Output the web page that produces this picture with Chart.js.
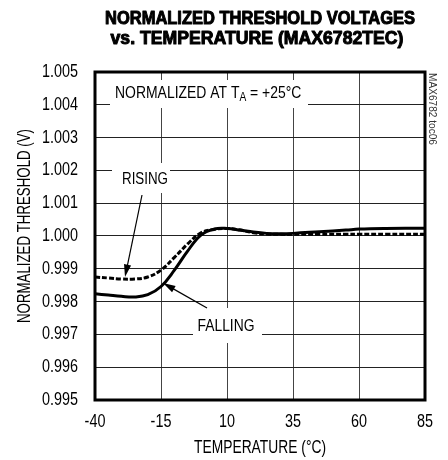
<!DOCTYPE html>
<html>
<head>
<meta charset="utf-8">
<script src="https://cdn.jsdelivr.net/npm/chart.js@4.4.1/dist/chart.umd.min.js"></script>
<style>
  html, body { margin: 0; padding: 0; background: #fff; }
  #wrap { width: 448px; height: 460px; }
</style>
</head>
<body>
<div id="wrap"><canvas id="chart" width="448" height="460"></canvas></div>
<script>
// temperatures (°C) and normalized thresholds
const temps = [-40, -35, -30, -25, -20, -15, -10, -5, 0, 5, 10, 15, 20, 25, 30, 35, 45, 55, 60, 70, 85];
const rising = [0.99875, 0.99872, 0.99869, 0.99869, 0.99875, 0.99896, 0.99934, 0.99975, 1.00009, 1.00020,
  1.00023, 1.00018, 1.00010, 1.00006, 1.00005, 1.00005, 1.00005, 1.00005, 1.00005, 1.00005, 1.00005];
const falling = [0.99824, 0.99820, 0.99816, 0.99814, 0.99821, 0.99846, 0.99895, 0.99953, 1.00002, 1.00021,
  1.00023, 1.00018, 1.00012, 1.00008, 1.00007, 1.00008, 1.00013, 1.00018, 1.00021, 1.00023, 1.00024];
const xTicks = [-40, -15, 10, 35, 60, 85];
const yTicks = [0.995, 0.996, 0.997, 0.998, 0.999, 1.000, 1.001, 1.002, 1.003, 1.004, 1.005];

const FONT = '"Liberation Sans", Arial, sans-serif';

// narrow text: regular font squeezed horizontally
function txt(ctx, s, x, y, o) {
  o = o || {};
  ctx.save();
  ctx.font = (o.bold ? 'bold ' : '') + (o.size || 18) + 'px ' + FONT;
  ctx.fillStyle = o.color || '#000';
  ctx.textBaseline = 'middle';
  ctx.textAlign = 'left';
  const m = ctx.measureText(s).width;
  const sx = o.w ? o.w / m : (o.sx || 0.8);
  const w = m * sx;
  ctx.translate(x, y);
  if (o.rot) ctx.rotate(o.rot);
  let dx = 0;
  if (o.align === 'center') dx = -w / 2;
  if (o.align === 'right') dx = -w;
  ctx.translate(dx, 0);
  ctx.scale(sx, 1);
  if (o.heavy) {
    ctx.strokeStyle = ctx.fillStyle;
    ctx.lineWidth = o.heavy;
    ctx.lineJoin = 'round';
    ctx.strokeText(s, 0, 0);
  }
  ctx.fillText(s, 0, 0);
  ctx.restore();
  return w;
}

function whiteBox(ctx, x0, y0, x1, y1) {
  ctx.fillStyle = '#fff';
  ctx.fillRect(x0, y0, x1 - x0, y1 - y0);
}

function arrow(ctx, x0, y0, x1, y1) {
  const a = Math.atan2(y1 - y0, x1 - x0);
  const len = 13, half = 0.28;
  ctx.strokeStyle = '#000';
  ctx.fillStyle = '#000';
  ctx.lineWidth = 1.2;
  ctx.beginPath();
  ctx.moveTo(x0, y0);
  ctx.lineTo(x1 - Math.cos(a) * len * 0.8, y1 - Math.sin(a) * len * 0.8);
  ctx.stroke();
  ctx.beginPath();
  ctx.moveTo(x1, y1);
  ctx.lineTo(x1 - len * Math.cos(a - half), y1 - len * Math.sin(a - half));
  ctx.lineTo(x1 - len * Math.cos(a + half), y1 - len * Math.sin(a + half));
  ctx.closePath();
  ctx.fill();
}

const notes = {
  id: 'notes',
  beforeDatasetsDraw(chart) {
    const ctx = chart.ctx;
    const a = chart.chartArea;
    ctx.save();
    whiteBox(ctx, a.left + 15, a.top + 8, a.left + 213, a.top + 36);
    whiteBox(ctx, a.left + 17, a.top + 91, a.left + 75, a.top + 121);
    whiteBox(ctx, a.left + 98, a.top + 236, a.left + 167, a.top + 271);
    let x = a.left + 20;
    x += txt(ctx, 'NORMALIZED AT T', x, a.top + 21, { size: 17, sx: 0.82 });
    x += txt(ctx, 'A', x, a.top + 26, { size: 12, sx: 0.85 });
    txt(ctx, ' = +25°C', x, a.top + 21, { size: 17, sx: 0.82 });
    txt(ctx, 'RISING', a.left + 50, a.top + 107, { size: 17, w: 46, align: 'center' });
    txt(ctx, 'FALLING', a.left + 131, a.top + 254, { size: 17, w: 57, align: 'center' });
    ctx.restore();
  },
  afterDatasetsDraw(chart) {
    const ctx = chart.ctx;
    const a = chart.chartArea;
    ctx.save();
    arrow(ctx, a.left + 47, a.top + 123, a.left + 30, a.top + 205);
    arrow(ctx, a.left + 112, a.top + 236, a.left + 68, a.top + 211);
    ctx.strokeStyle = '#000';
    ctx.lineWidth = 3;
    ctx.strokeRect(a.left, a.top, a.right - a.left, a.bottom - a.top);
    ctx.restore();
  },
  afterDraw(chart) {
    const ctx = chart.ctx;
    const a = chart.chartArea;
    const xs = chart.scales.x, ys = chart.scales.y;
    const cx = (a.left + a.right) / 2;
    // tick labels from the library's scales
    xs.ticks.forEach(t => txt(ctx, String(t.value), xs.getPixelForValue(t.value), a.bottom + 22, { size: 18, align: 'center' }));
    ys.ticks.forEach(t => txt(ctx, t.value.toFixed(3), a.left - 17, ys.getPixelForValue(t.value), { size: 18, align: 'right' }));
    // axis titles
    txt(ctx, 'TEMPERATURE (°C)', cx, a.bottom + 48, { size: 18, w: 132, align: 'center' });
    txt(ctx, 'NORMALIZED THRESHOLD (V)', 25, 226, { size: 18, w: 194, align: 'center', rot: -Math.PI / 2 });
    // title
    txt(ctx, 'NORMALIZED THRESHOLD VOLTAGES', cx, 19.5, { size: 18, bold: true, heavy: 1, w: 310, align: 'center' });
    txt(ctx, 'vs. TEMPERATURE (MAX6782TEC)', cx - 3, 39.5, { size: 18, bold: true, heavy: 1, w: 293, align: 'center' });
    // figure code on the right margin
    txt(ctx, 'MAX6782 toc06', a.right + 7, a.top + 1, { size: 10, w: 72, color: '#333', rot: Math.PI / 2 });
  }
};

new Chart(document.getElementById('chart'), {
  type: 'line',
  data: {
    datasets: [
      {
        label: 'RISING',
        data: temps.map((t, i) => ({ x: t, y: rising[i] })),
        borderColor: '#000',
        borderWidth: 3,
        borderDash: [5, 2],
        pointRadius: 0,
        tension: 0.4
      },
      {
        label: 'FALLING',
        data: temps.map((t, i) => ({ x: t, y: falling[i] })),
        borderColor: '#000',
        borderWidth: 3,
        pointRadius: 0,
        tension: 0.4
      }
    ]
  },
  options: {
    responsive: false,
    animation: false,
    layout: { padding: { top: 72, right: 23, left: 0, bottom: 0 } },
    plugins: {
      legend: { display: false },
      title: { display: false },
      tooltip: { enabled: false }
    },
    scales: {
      x: {
        type: 'linear',
        min: -40,
        max: 85,
        afterBuildTicks: s => { s.ticks = xTicks.map(v => ({ value: v })); },
        afterFit: s => { s.height = 60; },
        grid: { color: '#444', lineWidth: 1, drawTicks: false },
        border: { display: false },
        ticks: { display: false }
      },
      y: {
        min: 0.995,
        max: 1.005,
        afterBuildTicks: s => { s.ticks = yTicks.map(v => ({ value: v })); },
        afterFit: s => { s.width = 95; },
        grid: { color: '#222', lineWidth: 1, drawTicks: false },
        border: { display: false },
        ticks: { display: false }
      }
    }
  },
  plugins: [notes]
});
</script>
</body>
</html>
